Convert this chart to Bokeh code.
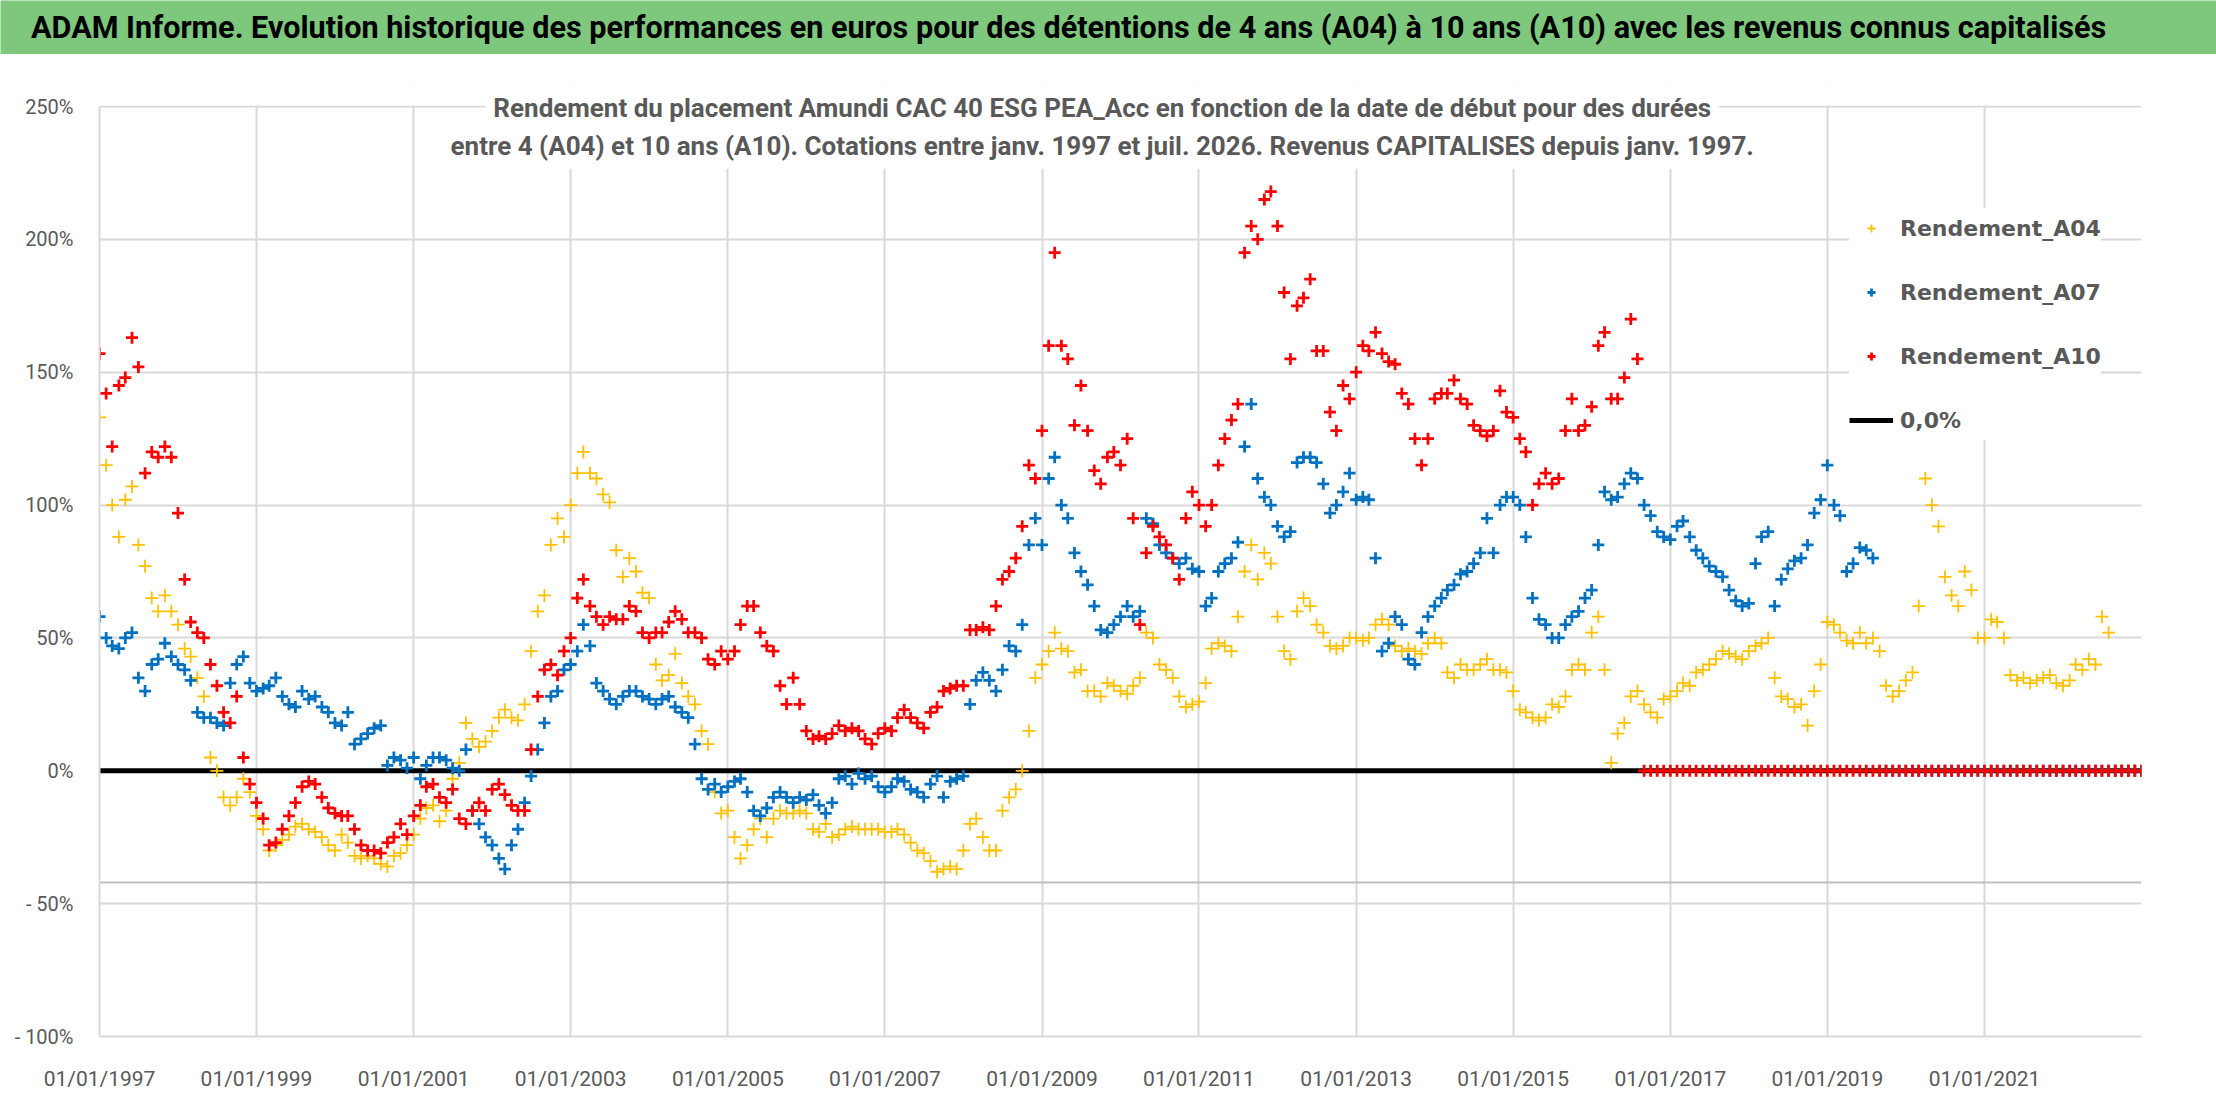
import pandas as pd
from bokeh.plotting import figure
from bokeh.models import (Range1d, FixedTicker, DatetimeTickFormatter, Label,
                          Legend, LegendItem, Span, BoxAnnotation)
from bokeh.layouts import column
from bokeh.embed import file_html
from bokeh.resources import INLINE

# ---------------- texts ----------------
TITLE = ("ADAM Informe. Evolution historique des performances en euros pour des "
         "détentions de 4 ans (A04) à 10 ans (A10) avec les revenus connus capitalisés")
SUBTITLE_1 = ("Rendement du placement Amundi CAC 40 ESG PEA_Acc en fonction de la date "
              "de début pour des durées")
SUBTITLE_2 = ("entre 4 (A04) et 10 ans (A10). Cotations entre janv. 1997 et juil. 2026. "
              "Revenus CAPITALISES depuis janv. 1997.")
series_names = ["Rendement_A04", "Rendement_A07", "Rendement_A10"]
zero_line_name = "0,0%"

# ---------------- data (monthly start dates from Jan 1997, values in %) ----------------
first_month = "1997-01-01"
n_months = 313  # Jan 1997 .. Jan 2023

rendement_a04 = [
    133, 115, 100, 88, 102, 107, 85, 77, 65, 60, 66, 60,            # 1997
    55, 46, 43, 35, 28, 5, 0, -10, -13, -10, -3, -8,                # 1998
    -17, -22, -30, -28, -26, -24, -21, -20, -22, -23, -25, -28,     # 1999
    -30, -24, -27, -32, -33, -32, -33, -35, -36, -32, -31, -28,     # 2000
    -24, -18, -14, -13, -19, -15, -3, 3, 18, 12, 9, 11,             # 2001
    15, 20, 23, 20, 19, 25, 45, 60, 66, 85, 95, 88,                 # 2002
    100, 112, 120, 112, 110, 104, 101, 83, 73, 80, 75, 67,          # 2003
    65, 40, 34, 36, 44, 33, 28, 25, 15, 10, -8, -16,                # 2004
    -15, -25, -33, -28, -22, -18, -25, -18, -15, -16, -16, -15,     # 2005
    -16, -22, -23, -20, -25, -24, -22, -21, -22, -22, -22, -22,     # 2006
    -23, -23, -22, -24, -27, -30, -31, -34, -38, -37, -36, -37,     # 2007
    -30, -20, -18, -25, -30, -30, -15, -10, -7, 0, 15, 35,          # 2008
    40, 45, 52, 46, 45, 37, 38, 30, 30, 28, 33, 32,                 # 2009
    30, 29, 32, 35, 52, 50, 40, 38, 35, 28, 24, 25,                 # 2010
    26, 33, 46, 48, 47, 45, 58, 75, 85, 72, 82, 78,                 # 2011
    58, 45, 42, 60, 65, 62, 55, 52, 47, 46, 47, 50,                 # 2012
    50, 49, 50, 55, 57, 55, 47, 45, 46, 45, 44, 48,                 # 2013
    50, 48, 37, 35, 40, 38, 38, 40, 42, 38, 38, 37,                 # 2014
    30, 23, 22, 20, 19, 20, 25, 24, 28, 38, 40, 38,                 # 2015
    52, 58, 38, 3, 14, 18, 28, 30, 25, 22, 20, 27,                  # 2016
    28, 30, 33, 32, 37, 38, 40, 42, 45, 44, 43, 42,                 # 2017
    45, 47, 48, 50, 35, 28, 27, 24, 25, 17, 30, 40,                 # 2018
    56, 55, 52, 49, 48, 52, 48, 50, 45, 32, 28, 30,                 # 2019
    34, 37, 62, 110, 100, 92, 73, 66, 62, 75, 68, 50,               # 2020
    50, 57, 56, 50, 36, 34, 35, 33, 34, 35, 36, 33,                 # 2021
    32, 34, 40, 38, 42, 40, 58, 52,                                 # 2022 (to Aug)
] + [0] * 5

rendement_a07 = [
    58, 50, 47, 46, 50, 52, 35, 30, 40, 42, 48, 43,                 # 1997
    40, 38, 34, 22, 20, 20, 18, 17, 33, 40, 43, 33,                 # 1998
    30, 31, 32, 35, 28, 25, 24, 30, 27, 28, 24, 22,                 # 1999
    18, 17, 22, 10, 12, 14, 16, 17, 2, 5, 4, 1,                     # 2000
    5, -3, 2, 5, 5, 4, 1, 0, 8, -15, -20, -25,                      # 2001
    -28, -33, -37, -28, -22, -12, -2, 8, 18, 28, 30, 38,            # 2002
    40, 45, 55, 47, 33, 30, 27, 25, 28, 30, 30, 28,                 # 2003
    27, 25, 27, 28, 24, 22, 20, 10, -3, -7, -5, -8,                 # 2004
    -6, -4, -3, -8, -15, -17, -14, -10, -8, -10, -12, -10,          # 2005
    -11, -9, -13, -16, -12, -3, -2, -5, -1, -3, -2, -6,             # 2006
    -8, -6, -3, -4, -7, -8, -10, -5, -2, -10, -4, -3,               # 2007
    -2, 25, 34, 37, 34, 30, 38, 47, 45, 55, 85, 95,                 # 2008
    85, 110, 118, 100, 95, 82, 75, 70, 62, 53, 52, 55,              # 2009
    58, 62, 58, 60, 95, 93, 85, 82, 80, 78, 80, 76,                 # 2010
    75, 62, 65, 75, 78, 80, 86, 122, 138, 110, 103, 100,            # 2011
    92, 88, 90, 116, 118, 118, 116, 108, 97, 100, 105, 112,         # 2012
    102, 103, 102, 80, 45, 48, 58, 55, 42, 40, 52, 58,              # 2013
    62, 65, 68, 70, 74, 75, 78, 82, 95, 82, 100, 103,               # 2014
    103, 100, 88, 65, 57, 55, 50, 50, 55, 58, 60, 65,               # 2015
    68, 85, 105, 102, 103, 108, 112, 110, 100, 96, 90, 88,          # 2016
    87, 92, 94, 88, 83, 80, 77, 75, 73, 68, 64, 62,                 # 2017
    63, 78, 88, 90, 62, 72, 76, 79, 80, 85, 97, 102,                # 2018
    115, 100, 96, 75, 78, 84, 83, 80,                               # 2019 (to Aug)
] + [0] * 41

rendement_a10 = [
    157, 142, 122, 145, 148, 163, 152, 112, 120, 118, 122, 118,     # 1997
    97, 72, 56, 52, 50, 40, 32, 22, 18, 28, 5, -5,                  # 1998
    -12, -18, -28, -27, -22, -17, -12, -6, -4, -5, -10, -14,        # 1999
    -16, -17, -17, -22, -28, -30, -30, -31, -27, -25, -20, -24,     # 2000
    -17, -13, -6, -5, -10, -12, -7, -18, -20, -15, -12, -15,        # 2001
    -7, -5, -9, -13, -15, -15, 8, 28, 38, 40, 36, 45,               # 2002
    50, 65, 72, 62, 58, 55, 58, 57, 57, 62, 60, 52,                 # 2003
    50, 52, 52, 56, 60, 57, 52, 52, 50, 42, 40, 45,                 # 2004
    42, 45, 55, 62, 62, 52, 47, 45, 32, 25, 35, 25,                 # 2005
    15, 12, 13, 12, 14, 17, 15, 16, 15, 12, 10, 14,                 # 2006
    16, 15, 20, 23, 20, 18, 16, 22, 24, 30, 31, 32,                 # 2007
    32, 53, 53, 54, 53, 62, 72, 75, 80, 92, 115, 110,               # 2008
    128, 160, 195, 160, 155, 130, 145, 128, 113, 108, 118, 120,     # 2009
    115, 125, 95, 55, 82, 92, 88, 85, 80, 72, 95, 105,              # 2010
    100, 92, 100, 115, 125, 132, 138, 195, 205, 200, 215, 218,      # 2011
    205, 180, 155, 175, 178, 185, 158, 158, 135, 128, 145, 140,     # 2012
    150, 160, 158, 165, 157, 154, 153, 142, 138, 125, 115, 125,     # 2013
    140, 142, 142, 147, 140, 138, 130, 128, 126, 128, 143, 135,     # 2014
    133, 125, 120, 100, 108, 112, 108, 110, 128, 140, 128, 130,     # 2015
    137, 160, 165, 140, 140, 148, 170, 155,                         # 2016 (to Aug)
] + [0] * 77

zero_line_dates = ["1997-01-01", "2023-01-01"]
zero_line_values = [0.0, 0.0]
lower_reference_level = -42

x_start, x_end = "1997-01-01", "2023-01-01"
x_tick_years = [1997, 1999, 2001, 2003, 2005, 2007, 2009, 2011, 2013, 2015, 2017, 2019, 2021]
y_ticks = [-100, -50, 0, 50, 100, 150, 200, 250]
y_tick_labels = ["- 100%", "- 50%", "0%", "50%", "100%", "150%", "200%", "250%"]
y_min, y_max = -100, 250

colors = ["#FFC000", "#0070C0", "#FF0000"]
GRID = "#D9D9D9"
TEXT_GREY = "#595959"
FONT = "Roboto"

# ---------------- layout constants (pixels) ----------------
W_TITLE = 2216
W = 2196
TITLE_H = 54
MAIN_H = 1046
PLOT_PX = 930                      # height of the -100..250 band
TOP_EXTRA = 26                     # free band above 250 % for the subtitle
px_per_unit = PLOT_PX / (y_max - y_min)
y_top = y_max + TOP_EXTRA / px_per_unit

# ---------------- build ----------------
dates = pd.date_range(first_month, periods=n_months, freq="MS")

# Title band (its frame must not be aligned with the chart frame below)
tfig = figure(width=W_TITLE, height=TITLE_H, x_range=Range1d(0, 1), y_range=Range1d(0, 1),
              toolbar_location=None, output_backend="svg", min_border=0,
              background_fill_color="#7DC87D", border_fill_color="#7DC87D",
              outline_line_color=None)
tfig.frame_align = False
tfig.axis.visible = False
tfig.grid.visible = False
tfig.add_layout(Label(x=0.482, y=0.5, text=TITLE, text_align="center",
                      text_baseline="middle", text_font=FONT, text_font_style="bold",
                      text_font_size="30.6px", text_color="#000000"))

# Main chart
p = figure(width=W, height=MAIN_H, x_axis_type="datetime",
           x_range=Range1d(pd.Timestamp(x_start), pd.Timestamp(x_end)),
           y_range=Range1d(y_min, y_top),
           toolbar_location=None, output_backend="svg",
           min_border_left=99, min_border_right=55, min_border_top=52 - TOP_EXTRA,
           min_border_bottom=64, outline_line_color=None,
           background_fill_color="white", border_fill_color="white")
p.frame_align = False

xticks = [pd.Timestamp(f"{y}-01-01").value / 1e6 for y in x_tick_years]
p.xaxis.ticker = FixedTicker(ticks=xticks)
p.xgrid.ticker = FixedTicker(ticks=xticks)
p.xaxis.formatter = DatetimeTickFormatter(days="%d/%m/%Y", months="%d/%m/%Y",
                                          years="%d/%m/%Y")
p.yaxis.ticker = FixedTicker(ticks=y_ticks)
p.ygrid.ticker = FixedTicker(ticks=y_ticks)
p.yaxis.major_label_overrides = {t: l for t, l in zip(y_ticks, y_tick_labels)}
p.yaxis.bounds = (y_min, y_max)

for ax in (p.xaxis, p.yaxis):
    ax.major_tick_line_color = None
    ax.minor_tick_line_color = None
    ax.major_tick_out = 0
    ax.major_tick_in = 0
    ax.minor_tick_out = 0
    ax.axis_line_color = GRID
    ax.axis_line_width = 2
    ax.major_label_text_color = TEXT_GREY
    ax.major_label_text_font = FONT
p.xaxis.major_label_text_font_size = "21px"
p.yaxis.major_label_text_font_size = "20px"
p.yaxis.major_label_standoff = 26
p.xaxis.major_label_standoff = 30

p.grid.grid_line_color = GRID
p.grid.grid_line_width = 2

p.add_layout(Span(location=lower_reference_level, dimension="width",
                  line_color="#BFBFBF", line_width=2, level="underlay"))

r_zero = p.line(x=pd.to_datetime(zero_line_dates), y=zero_line_values,
                line_color="black", line_width=5)

r04 = p.scatter(x=dates, y=rendement_a04, marker="cross", size=13,
                line_color=colors[0], line_width=1.8)
r07 = p.scatter(x=dates, y=rendement_a07, marker="cross", size=12,
                line_color=colors[1], line_width=2.8)
r10 = p.scatter(x=dates, y=rendement_a10, marker="cross", size=12,
                line_color=colors[2], line_width=2.8)

# white band above 250 % (no grid there in the original)
p.add_layout(BoxAnnotation(bottom=y_max + 0.4, fill_color="white", fill_alpha=1.0,
                           line_color=None))

legend = Legend(items=[LegendItem(label=series_names[0], renderers=[r04]),
                       LegendItem(label=series_names[1], renderers=[r07]),
                       LegendItem(label=series_names[2], renderers=[r10]),
                       LegendItem(label=zero_line_name, renderers=[r_zero])],
                location=(1750, 596),
                label_text_font="DejaVu Sans", label_text_font_style="bold",
                label_text_font_size="22px", label_text_color=TEXT_GREY,
                glyph_width=44, glyph_height=20, label_height=40, label_standoff=7,
                spacing=24, padding=20, margin=0, border_line_color=None,
                background_fill_color="white", background_fill_alpha=1.0)
p.add_layout(legend)

# Subtitle (white box hides grid as in the original)
sub_x = pd.Timestamp("2009-10-08")
for txt, yv in ((SUBTITLE_1, 249.6), (SUBTITLE_2, 235.2)):
    p.add_layout(Label(x=sub_x, y=yv, text=txt, text_align="center",
                       text_baseline="middle", text_font=FONT, text_font_style="bold",
                       text_font_size="26px", text_color=TEXT_GREY,
                       background_fill_color="white", background_fill_alpha=1.0,
                       padding=8))

layout = column(tfig, p, spacing=0)
open("out.html", "w").write(file_html(layout, INLINE))
